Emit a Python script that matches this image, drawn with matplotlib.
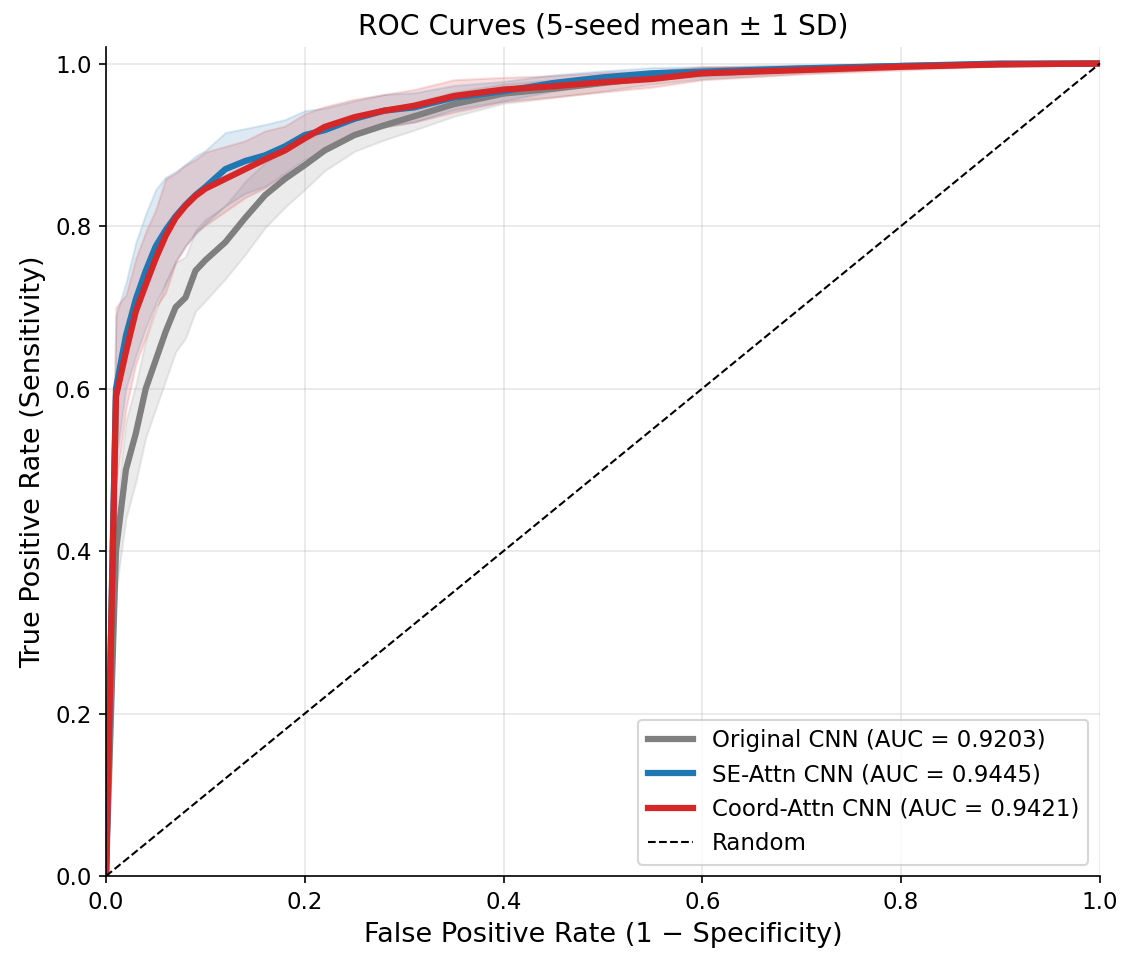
import numpy as np
import matplotlib
matplotlib.use("Agg")
import matplotlib.pyplot as plt

fpr_grid = [0, 0.01, 0.02, 0.03, 0.04, 0.05, 0.06, 0.07, 0.08, 0.09, 0.10, 0.12, 0.14,
            0.16, 0.18, 0.20, 0.22, 0.25, 0.28, 0.31, 0.35, 0.40, 0.45, 0.50, 0.55,
            0.60, 0.70, 0.80, 0.90, 1.0]

tpr_original = [0, 0.40, 0.50, 0.545, 0.60, 0.635, 0.67, 0.70, 0.712, 0.745, 0.758, 0.78, 0.81,
                0.838, 0.858, 0.875, 0.893, 0.912, 0.924, 0.935, 0.95, 0.963, 0.969, 0.976, 0.983,
                0.988, 0.993, 0.997, 0.999, 1.0]
sd_original = [0, 0.05, 0.06, 0.06, 0.06, 0.06, 0.06, 0.055, 0.05, 0.05, 0.05, 0.045, 0.045,
               0.04, 0.035, 0.03, 0.025, 0.02, 0.018, 0.017, 0.015, 0.012, 0.011, 0.01, 0.008,
               0.007, 0.005, 0.003, 0.002, 0]

tpr_se = [0, 0.60, 0.665, 0.71, 0.745, 0.775, 0.795, 0.812, 0.826, 0.838, 0.848, 0.87, 0.88,
          0.887, 0.898, 0.912, 0.918, 0.932, 0.942, 0.946, 0.958, 0.966, 0.976, 0.983, 0.988,
          0.99, 0.994, 0.997, 1.0, 1.0]
sd_se = [0, 0.09, 0.065, 0.07, 0.07, 0.07, 0.065, 0.055, 0.05, 0.048, 0.045, 0.045, 0.04,
         0.038, 0.033, 0.03, 0.027, 0.022, 0.02, 0.018, 0.015, 0.012, 0.01, 0.008, 0.007,
         0.006, 0.004, 0.003, 0.001, 0]

tpr_coord = [0, 0.59, 0.645, 0.695, 0.728, 0.76, 0.788, 0.81, 0.825, 0.837, 0.846, 0.858, 0.87,
             0.882, 0.893, 0.908, 0.922, 0.934, 0.942, 0.948, 0.96, 0.968, 0.972, 0.977, 0.981,
             0.988, 0.992, 0.996, 0.999, 1.0]
sd_coord = [0, 0.11, 0.07, 0.065, 0.065, 0.06, 0.07, 0.055, 0.05, 0.045, 0.045, 0.04, 0.035,
            0.035, 0.03, 0.03, 0.025, 0.022, 0.02, 0.02, 0.02, 0.015, 0.013, 0.012, 0.01,
            0.008, 0.005, 0.004, 0.002, 0]

labels = ["Original CNN (AUC = 0.9203)", "SE-Attn CNN (AUC = 0.9445)", "Coord-Attn CNN (AUC = 0.9421)"]
colors = ["#7f7f7f", "#1f77b4", "#d62728"]

fig = plt.figure(figsize=(7.52, 6.38), dpi=150)
ax = fig.add_axes([0.094, 0.0846, 0.881, 0.866])

x = np.array(fpr_grid)
series = [(tpr_original, sd_original), (tpr_se, sd_se), (tpr_coord, sd_coord)]
for (m, s), c in zip(series, colors):
    m = np.array(m); s = np.array(s)
    ax.fill_between(x, np.clip(m - s, 0, 1), np.clip(m + s, 0, 1), color=c, alpha=0.15)
for (m, s), c, lab in zip(series, colors, labels):
    ax.plot(x, m, color=c, lw=3, label=lab)
ax.plot([0, 1], [0, 1], "k--", lw=1, label="Random")

ax.set_xlim(0, 1)
ax.set_ylim(0, 1.02)
ax.set_xlabel("False Positive Rate (1 \u2212 Specificity)", fontsize=13)
ax.set_ylabel("True Positive Rate (Sensitivity)", fontsize=13)
ax.set_title("ROC Curves (5-seed mean \u00b1 1 SD)", fontsize=13.5)
ax.tick_params(labelsize=11)
ax.grid(True, alpha=0.3)
ax.spines["top"].set_visible(False)
ax.spines["right"].set_visible(False)
ax.legend(loc="lower right", fontsize=11)

fig.savefig("out.png", dpi=150)
